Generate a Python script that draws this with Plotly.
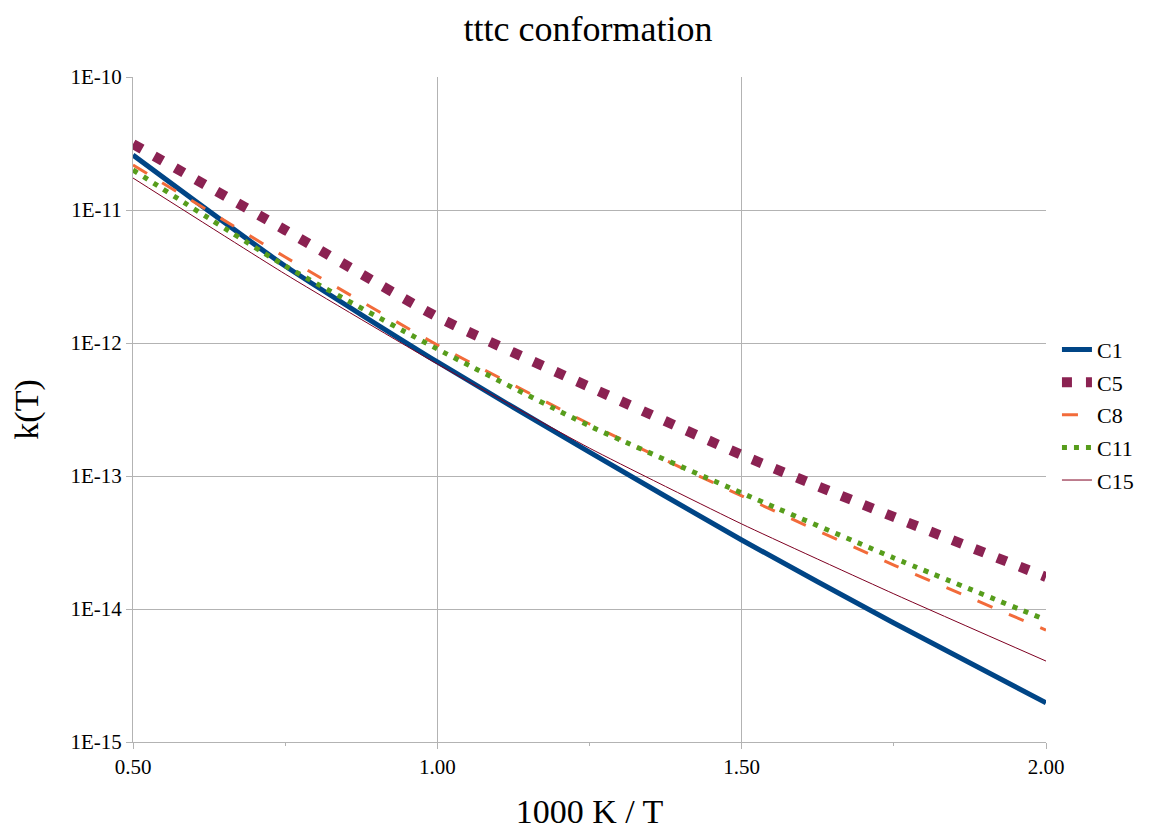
import plotly.graph_objects as go

x_vals = [0.50, 0.75, 1.00, 1.25, 1.50, 1.75, 2.00]
c1 = [2.59e-11, 3.79e-12, 7.20e-13, 1.51e-13, 3.30e-14, 7.85e-15, 1.97e-15]
c5 = [3.13e-11, 7.07e-12, 1.57e-12, 4.67e-13, 1.44e-13, 4.92e-14, 1.74e-14]
c8 = [2.18e-11, 4.43e-12, 9.66e-13, 2.46e-13, 7.08e-14, 2.14e-14, 6.95e-15]
c11 = [2.00e-11, 3.80e-12, 9.01e-13, 2.38e-13, 7.45e-14, 2.42e-14, 8.27e-15]
c15 = [1.74e-11, 3.30e-12, 6.95e-13, 1.62e-13, 4.36e-14, 1.30e-14, 4.06e-15]

y_tickvals = [1e-10, 1e-11, 1e-12, 1e-13, 1e-14, 1e-15]
y_ticktext = ["1E-10", "1E-11", "1E-12", "1E-13", "1E-14", "1E-15"]
x_tickvals = [0.5, 1.0, 1.5, 2.0]
x_ticktext = ["0.50", "1.00", "1.50", "2.00"]

series = [
    ("C1", c1, "#004586", 5, "solid"),
    ("C5", c5, "#8b2252", 10, "10px,14px"),
    ("C8", c8, "#f26b3a", 3, "16px,18px"),
    ("C11", c11, "#579d1c", 5, "5px,7px"),
    ("C15", c15, "#7e0021", 1, "solid"),
]

fig = go.Figure()
for name, vals, color, width, dash in series:
    fig.add_trace(go.Scatter(
        x=x_vals, y=vals, name=name, mode="lines", legendgroup=name,
        line=dict(color=color, width=width, dash=dash, shape="spline", smoothing=0.5),
    ))

ff = "Liberation Serif"
fig.update_layout(
    width=1160, height=822,
    paper_bgcolor="white", plot_bgcolor="white",
    margin=dict(l=125, r=122, t=69, b=88),
    font=dict(family=ff, color="black", size=19),
    title=dict(text="tttc conformation", x=0.5, xanchor="center", y=0.975, yanchor="middle",
               font=dict(family=ff, size=36, color="black")),
    legend=dict(x=1.012, y=0.492, xanchor="left", yanchor="middle",
                font=dict(family=ff, size=22, color="black"),
                tracegroupgap=1, itemwidth=30),
    showlegend=True,
)
fig.update_xaxes(
    range=[0.5, 2.0], tickvals=x_tickvals, ticktext=x_ticktext, automargin=False,
    showgrid=True, gridcolor="#b3b3b3", gridwidth=1,
    showline=True, linecolor="#b3b3b3", linewidth=1,
    ticks="outside", ticklen=6, tickcolor="#b3b3b3",
    minor=dict(tickvals=[0.75, 1.25, 1.75], ticks="outside", ticklen=3, tickcolor="#b3b3b3", showgrid=False),
    tickfont=dict(family=ff, size=21, color="black"),
    title=dict(text="1000 K / T", font=dict(family=ff, size=34, color="black"), standoff=25),
    zeroline=False,
)
fig.update_yaxes(
    type="log", range=[-15, -10], tickvals=y_tickvals, ticktext=y_ticktext, automargin=False,
    showgrid=True, gridcolor="#b3b3b3", gridwidth=1,
    showline=True, linecolor="#b3b3b3", linewidth=1,
    ticks="outside", ticklen=6, tickcolor="#b3b3b3",
    tickfont=dict(family=ff, size=21, color="black"),
    title=dict(text="k(T)", font=dict(family=ff, size=34, color="black"), standoff=26),
    zeroline=False,
)

fig.write_html("out.html")
